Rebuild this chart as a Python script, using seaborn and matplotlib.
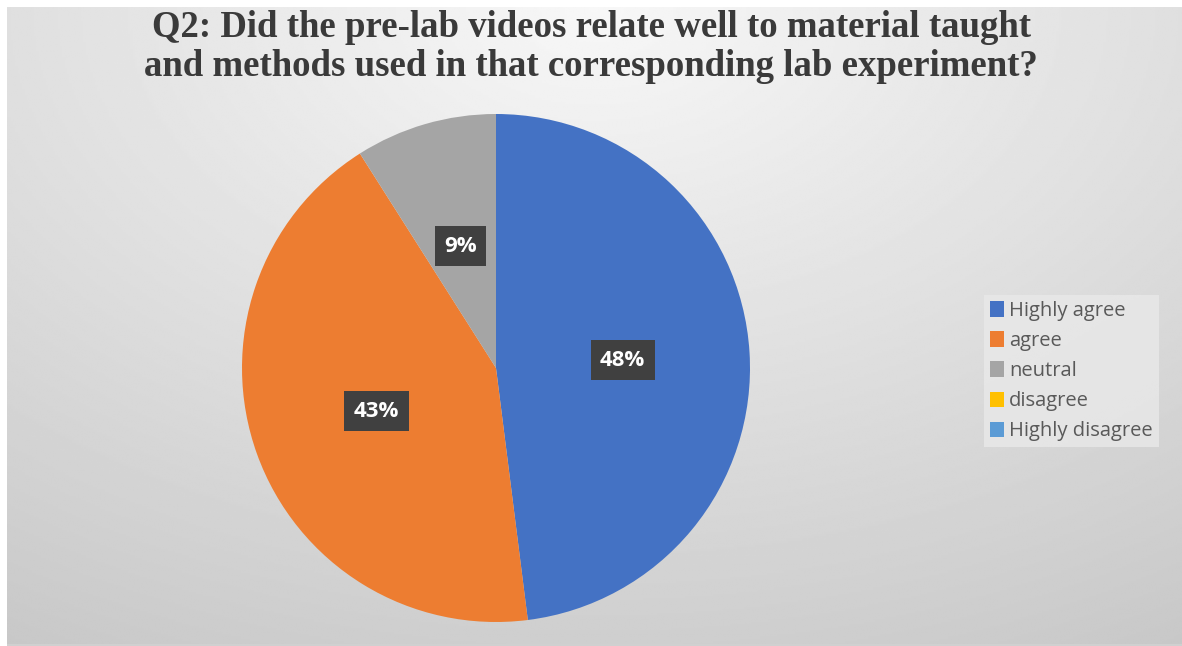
import numpy as np
import matplotlib
matplotlib.use("Agg")
import matplotlib.pyplot as plt
import seaborn as sns

# data
categories = ["Highly agree", "agree", "neutral", "disagree", "Highly disagree"]
shares = [48, 43, 9, 0, 0]
colors = ["#4472C4", "#ED7D31", "#A5A5A5", "#FFC000", "#5B9BD5"]
title = ("Q2: Did the pre-lab videos relate well to material taught\n"
         "and methods used in that corresponding lab experiment?")

sns.set_theme(style="white")
plt.rcParams["font.family"] = ["Open Sans", "DejaVu Sans"]

W, H = 1182, 646
fig = plt.figure(figsize=(W / 100, H / 100), dpi=100, facecolor="white")

# gradient background of the chart area
bg = fig.add_axes([7 / W, 0, 1 - 7 / W, 1 - 7 / H])
yy, xx = np.mgrid[0:1:300j, 0:1:500j]
d = np.sqrt(((xx - 0.5) * 1.3) ** 2 + (yy * 1.1) ** 2)
shade = 0.97 - 0.19 * np.clip(d, 0, 1.3) / 1.3
bg.imshow(shade, cmap="gray", vmin=0, vmax=1, aspect="auto",
          extent=[0, 1, 1, 0], interpolation="bilinear")
bg.set_axis_off()
bg.plot([0, 1], [0.002, 0.002], color="#d0d0d0", lw=1.5, transform=bg.transAxes)

fig.text(0.5, 1 - 47 / H, title, ha="center", va="center",
         family="Liberation Serif", fontweight="bold", fontsize=26.5,
         color="#3a3a3a", linespacing=1.12)

ax = fig.add_axes([242 / W, (H - 622) / H, 508 / W, 508 / H])


def fmt(p):
    return f"{p:.0f}%" if p > 0.5 else ""


wedges, texts, autotexts = ax.pie(
    shares, colors=colors, startangle=90, counterclock=False,
    autopct=fmt, pctdistance=0.5, radius=1,
    wedgeprops=dict(linewidth=0),
    textprops=dict(color="white", fontweight="bold", fontsize=16),
)
for t in autotexts:
    if t.get_text():
        t.set_bbox(dict(boxstyle="square,pad=0.42", facecolor="#404040",
                        edgecolor="none"))
ax.set_xlim(-1, 1)
ax.set_ylim(-1, 1)
ax.set_aspect("equal")
ax.set_axis_off()

leg = fig.legend(wedges, categories, loc="upper left",
                 bbox_to_anchor=(984 / W, 1 - 295 / H),
                 fontsize=14.5, frameon=True, fancybox=False,
                 handlelength=0.7, handleheight=0.8, handletextpad=0.25,
                 labelspacing=0.5, borderpad=0.3, borderaxespad=0)
leg.get_frame().set_facecolor("#e9e9e9")
leg.get_frame().set_edgecolor("none")
for t in leg.get_texts():
    t.set_color("#595959")

fig.savefig("out.png", dpi=100, facecolor="white")
